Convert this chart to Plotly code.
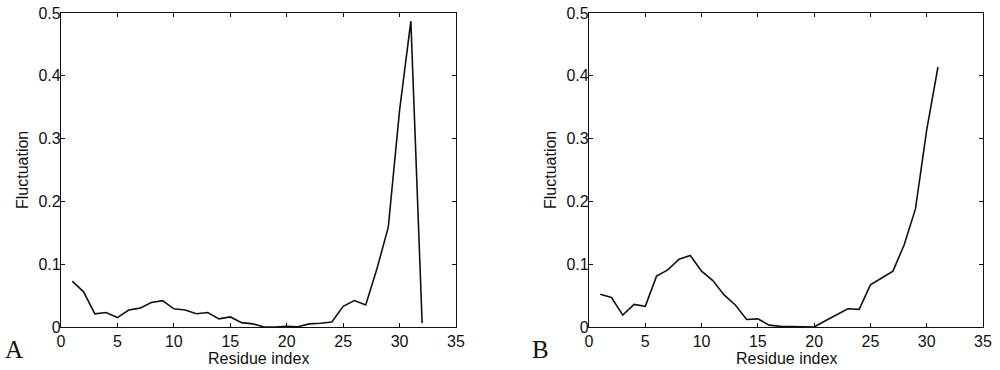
import plotly.graph_objects as go

residues_a = list(range(1, 33))
fluct_a = [0.073, 0.056, 0.021, 0.023, 0.015, 0.027, 0.030, 0.039, 0.042, 0.029,
           0.027, 0.021, 0.023, 0.013, 0.016, 0.007, 0.005, 0.000, 0.000, 0.001,
           0.0005, 0.005, 0.006, 0.008, 0.033, 0.042, 0.035, 0.093, 0.159, 0.345,
           0.487, 0.006]

residues_b = list(range(1, 32))
fluct_b = [0.052, 0.047, 0.019, 0.036, 0.033, 0.081, 0.091, 0.108, 0.114, 0.089,
           0.074, 0.051, 0.035, 0.012, 0.013, 0.003, 0.001, 0.001, 0.001, 0.000,
           0.010, 0.019, 0.029, 0.028, 0.067, 0.078, 0.089, 0.131, 0.188, 0.314,
           0.414]

x_ticks = [0, 5, 10, 15, 20, 25, 30, 35]
y_ticks = [0, 0.1, 0.2, 0.3, 0.4, 0.5]
panel_labels = ["A", "B"]
x_title = "Residue index"
y_title = "Fluctuation"

W, H = 1000, 370


def px_x(p):
    return p / W


def px_y(p):
    return 1 - p / H


fig = go.Figure()
line = dict(color="#111111", width=1.6)
fig.add_trace(go.Scatter(x=residues_a, y=fluct_a, mode="lines", line=line,
                         xaxis="x", yaxis="y", showlegend=False))
fig.add_trace(go.Scatter(x=residues_b, y=fluct_b, mode="lines", line=line,
                         xaxis="x2", yaxis="y2", showlegend=False))

font = dict(family="Liberation Sans, Arial, sans-serif", size=16, color="#111111")
ydom = [px_y(327), px_y(13)]
dom_a = [px_x(61), px_x(456)]
dom_b = [px_x(589), px_x(983)]


def xax(domain, anchor):
    return dict(domain=domain, anchor=anchor, range=[0, 35], tickvals=x_ticks,
                ticks="inside", ticklen=4, tickcolor="#111", showline=True,
                linecolor="#111", linewidth=1.2, mirror="ticks", showgrid=False,
                zeroline=False, tickfont=font, automargin=False)


def yax(domain, anchor):
    return dict(domain=domain, anchor=anchor, range=[0, 0.5], tickvals=y_ticks,
                ticks="inside", ticklen=4, tickcolor="#111", showline=True,
                linecolor="#111", linewidth=1.2, mirror="ticks", showgrid=False,
                zeroline=False, tickfont=font, automargin=False,
                ticklabelstandoff=-4)


ann = []
for lab, dom, lx, ty in [(panel_labels[0], dom_a, 14, 22), (panel_labels[1], dom_b, 540, 550)]:
    ann.append(dict(text=lab, x=px_x(lx), y=px_y(349), xref="paper", yref="paper",
                    showarrow=False, xanchor="center", yanchor="middle",
                    font=dict(family="Liberation Serif, serif", size=25, color="#111")))
    ann.append(dict(text=x_title, x=(dom[0] + dom[1]) / 2, y=px_y(358), xref="paper",
                    yref="paper", showarrow=False, xanchor="center", yanchor="middle",
                    font=font))
    ann.append(dict(text=y_title, x=px_x(ty), y=(ydom[0] + ydom[1]) / 2, xref="paper",
                    yref="paper", showarrow=False, xanchor="center", yanchor="middle",
                    textangle=-90, font=font))

fig.update_layout(
    width=W, height=H,
    margin=dict(l=0, r=0, t=0, b=0),
    paper_bgcolor="white", plot_bgcolor="white",
    xaxis=xax(dom_a, "y"),
    yaxis=yax(ydom, "x"),
    xaxis2=xax(dom_b, "y2"),
    yaxis2=yax(ydom, "x2"),
    annotations=ann,
)

fig.write_html("out.html", config={"displayModeBar": False},
               post_script="document.body.style.margin='0';")
